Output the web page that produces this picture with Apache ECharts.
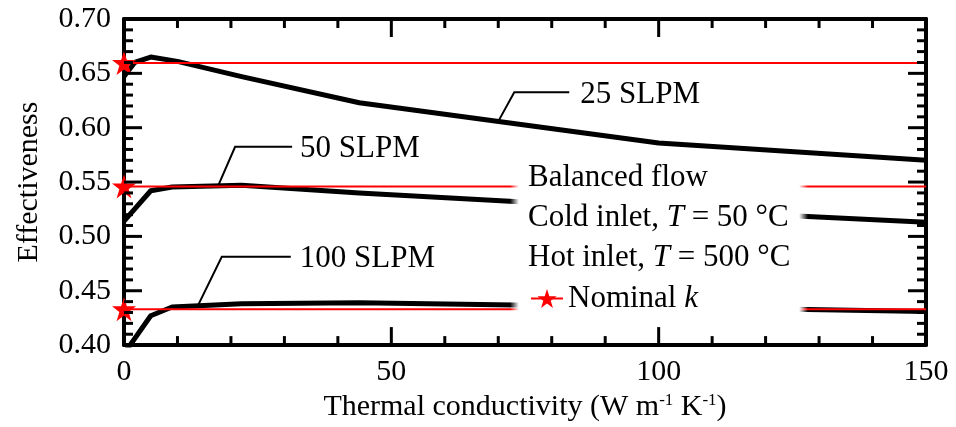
<!DOCTYPE html>
<html>
<head>
<meta charset="utf-8">
<script src="https://cdn.jsdelivr.net/npm/echarts@6/dist/echarts.min.js"></script>
<style>
  html, body { margin: 0; padding: 0; background: #fff; }
  #chart { width: 956px; height: 427px; }
</style>
</head>
<body>
<div id="chart"></div>
<script>
// Effectiveness vs. thermal conductivity for three flow rates
const k25 = [0, 2, 5, 10, 22, 44, 100, 150];
const eff25 = [0.647, 0.660, 0.665, 0.661, 0.647, 0.623, 0.586, 0.570];
const k50 = [0, 5, 9, 22, 44, 73, 100, 150];
const eff50 = [0.514, 0.542, 0.5455, 0.547, 0.540, 0.532, 0.525, 0.513];
const k100 = [0, 5, 9, 22, 44, 73, 100, 150];
const eff100 = [0.392, 0.427, 0.435, 0.438, 0.439, 0.437, 0.435, 0.431];

// Effectiveness at the nominal conductivity (25, 50, 100 SLPM)
const nominalEff = [0.6595, 0.546, 0.433];

const xTicks = [0, 50, 100, 150];
const yTicks = [0.40, 0.45, 0.50, 0.55, 0.60, 0.65, 0.70];

const flowLabels = ['25 SLPM', '50 SLPM', '100 SLPM'];
const legendLines = ['Balanced flow', 'Cold inlet, {i|T} = 50 °C', 'Hot inlet, {i|T} = 500 °C'];

const FONT = '"Liberation Serif", "Times New Roman", serif';
const STAR = 'path://M50,0 L61.8,35.1 L98.9,35.1 L69,57.3 L80.3,92.7 L50,71 L19.7,92.7 L31,57.3 L1.1,35.1 L38.2,35.1 Z';
const MINOR_SPLIT = 5;

function pairs(xs, ys) { return xs.map((x, i) => [x, ys[i]]); }

function interp(xs, ys, x) {
  for (let i = 0; i < xs.length - 1; i++) {
    if (x >= xs[i] && x <= xs[i + 1]) {
      const t = (x - xs[i]) / (xs[i + 1] - xs[i]);
      return ys[i] + t * (ys[i + 1] - ys[i]);
    }
  }
  return ys[ys.length - 1];
}

// frame axes: lines and labels only; tick marks are drawn by the tick series below
function frameAxis(extra) {
  return Object.assign({
    type: 'value',
    axisLine: { show: true, onZero: false, lineStyle: { color: '#000', width: 4 } },
    axisTick: { show: false },
    minorTick: { show: false },
    splitLine: { show: false },
    minorSplitLine: { show: false }
  }, extra);
}

const xMin = xTicks[0], xMax = xTicks[xTicks.length - 1], xStep = xTicks[1] - xTicks[0];
const yMin = yTicks[0], yMax = yTicks[yTicks.length - 1], yStep = 0.05;

// tick list: [value, isMajor, axis (0 = x, 1 = y)], majors plus evenly split minors
function tickList(majors, axis) {
  const out = [];
  for (let i = 0; i < majors.length; i++) {
    out.push([majors[i], 1, axis]);
    if (i < majors.length - 1) {
      const step = (majors[i + 1] - majors[i]) / MINOR_SPLIT;
      for (let j = 1; j < MINOR_SPLIT; j++) out.push([majors[i] + j * step, 0, axis]);
    }
  }
  return out;
}
const tickData = tickList(xTicks, 0).concat(tickList(yTicks, 1));

const tickSeries = {
  name: 'ticks',
  type: 'custom',
  silent: true,
  clip: false,
  z: 5,
  data: tickData,
  renderItem: (params, api) => {
    const v = api.value(0), major = api.value(1) === 1, axis = api.value(2);
    const len = major ? 18 : 9;
    const st = { stroke: '#000', lineWidth: 3 };
    let a, b;
    if (axis === 0) {
      a = api.coord([v, yMin]); b = api.coord([v, yMax]);
      return { type: 'group', children: [
        { type: 'line', shape: { x1: a[0], y1: a[1], x2: a[0], y2: a[1] - len }, style: st },
        { type: 'line', shape: { x1: b[0], y1: b[1], x2: b[0], y2: b[1] + len }, style: st }
      ] };
    }
    a = api.coord([xMin, v]); b = api.coord([xMax, v]);
    return { type: 'group', children: [
      { type: 'line', shape: { x1: a[0], y1: a[1], x2: a[0] + len, y2: a[1] }, style: st },
      { type: 'line', shape: { x1: b[0], y1: b[1], x2: b[0] - len, y2: b[1] }, style: st }
    ] };
  }
};

// Callouts: each leader line starts on its curve at conductivity `at`
const callouts = [
  { label: flowLabels[0], ks: k25, ys: eff25, at: 70, dx: 16, dy: -29, run: 55, gap: 11 },
  { label: flowLabels[1], ks: k50, ys: eff50, at: 17.6, dx: 17, dy: -39, run: 57, gap: 8 },
  { label: flowLabels[2], ks: k100, ys: eff100, at: 13.8, dx: 24, dy: -49, run: 69, gap: 9 }
];

const chart = echarts.init(document.getElementById('chart'));

const curveStyle = () => ({ color: '#000', width: 5, join: 'round' });

const nominalSeries = nominalEff.map(v => ({
  name: 'Nominal k',
  type: 'line',
  clip: false,
  symbol: STAR,
  symbolSize: 24,
  z: 3,
  itemStyle: { color: '#ff0000' },
  lineStyle: { color: '#ff0000', width: 2 },
  data: [
    { value: [xMin, v], symbol: STAR },
    { value: [xMax, v], symbol: 'none' }
  ]
}));

const calloutSeries = {
  name: 'callouts',
  type: 'custom',
  silent: true,
  clip: false,
  data: callouts.map(c => [c.at, interp(c.ks, c.ys, c.at)]),
  renderItem: (params, api) => {
    const c = callouts[params.dataIndex];
    const p = api.coord([api.value(0), api.value(1)]);
    const ex = p[0] + c.dx, ey = p[1] + c.dy;
    return {
      type: 'group',
      children: [
        {
          type: 'polyline',
          shape: { points: [[p[0], p[1]], [ex, ey], [ex + c.run, ey]] },
          style: { stroke: '#000', lineWidth: 2, fill: null }
        },
        {
          type: 'text',
          x: ex + c.run + c.gap, y: ey + 2,
          style: { text: c.label, fontFamily: FONT, fontSize: 31, fill: '#000', verticalAlign: 'middle', align: 'left' }
        }
      ]
    };
  }
};

// white panel behind the legend text, fading at its sides, and its text lines
const graphics = [{
  type: 'rect', z: 10, silent: true,
  shape: { x: 510, y: 160, width: 298, height: 162 },
  style: {
    fill: new echarts.graphic.LinearGradient(0, 0, 1, 0, [
      { offset: 0, color: 'rgba(255,255,255,0)' },
      { offset: 0.03, color: 'rgba(255,255,255,1)' },
      { offset: 0.97, color: 'rgba(255,255,255,1)' },
      { offset: 1, color: 'rgba(255,255,255,0)' }
    ])
  }
}].concat(legendLines.map((txt, i) => ({
  type: 'text', z: 20, silent: true,
  x: 528, y: 178 + i * 40,
  style: {
    text: txt, fontFamily: FONT, fontSize: 31, fill: '#000',
    verticalAlign: 'middle', align: 'left',
    rich: { i: { fontFamily: FONT, fontSize: 31, fontStyle: 'italic', fill: '#000' } }
  }
})));

chart.setOption({
  animation: false,
  grid: { left: 124, right: 30, top: 19, bottom: 80 },
  xAxis: [
    frameAxis({
      position: 'bottom', min: xMin, max: xMax, interval: xStep,
      name: 'Thermal conductivity (W m{s|-1} K{s|-1})',
      nameLocation: 'middle', nameGap: 42,
      nameTextStyle: {
        fontFamily: FONT, fontSize: 30, color: '#000',
        rich: { s: { fontFamily: FONT, fontSize: 17, color: '#000', verticalAlign: 'top', lineHeight: 30 } }
      },
      axisLabel: { fontFamily: FONT, fontSize: 30, color: '#000', margin: 12 }
    }),
    frameAxis({ position: 'top', min: xMin, max: xMax, interval: xStep, axisLabel: { show: false } })
  ],
  yAxis: [
    frameAxis({
      position: 'left', min: yMin, max: yMax, interval: yStep,
      name: 'Effectiveness', nameLocation: 'middle', nameGap: 80, nameRotate: 90,
      nameTextStyle: { fontFamily: FONT, fontSize: 30, color: '#000' },
      axisLabel: { fontFamily: FONT, fontSize: 30, color: '#000', margin: 13, formatter: v => v.toFixed(2) }
    }),
    frameAxis({ position: 'right', min: yMin, max: yMax, interval: yStep, axisLabel: { show: false } })
  ],
  legend: {
    data: ['Nominal k'],
    left: 530, top: 283, padding: 0,
    itemWidth: 32, itemHeight: 24,
    z: 20,
    selectedMode: false,
    formatter: () => 'Nominal {i|k}',
    textStyle: {
      fontFamily: FONT, fontSize: 31, color: '#000',
      rich: { i: { fontFamily: FONT, fontSize: 31, fontStyle: 'italic', color: '#000' } }
    }
  },
  graphic: graphics,
  series: [
    { name: '25 SLPM', type: 'line', symbol: 'none', lineStyle: curveStyle(), data: pairs(k25, eff25) },
    { name: '50 SLPM', type: 'line', symbol: 'none', lineStyle: curveStyle(), data: pairs(k50, eff50) },
    { name: '100 SLPM', type: 'line', symbol: 'none', lineStyle: curveStyle(), data: pairs(k100, eff100) }
  ].concat(nominalSeries, [calloutSeries, tickSeries])
});
</script>
</body>
</html>
